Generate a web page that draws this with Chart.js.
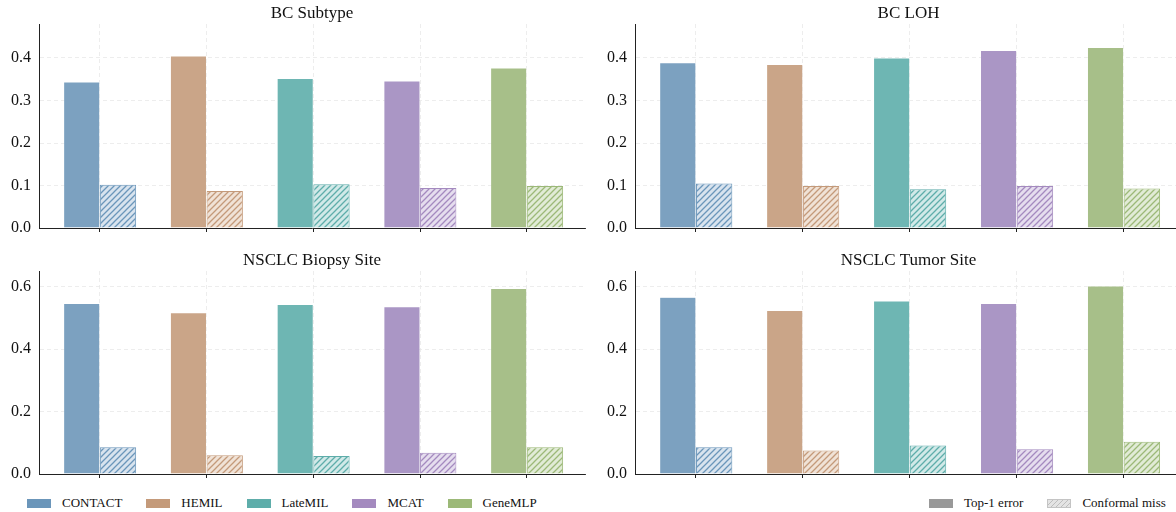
<!DOCTYPE html>
<html>
<head>
<meta charset="utf-8">
<script src="https://cdn.jsdelivr.net/npm/chart.js@4.4.1/dist/chart.umd.min.js"></script>
<style>
  html, body { margin: 0; padding: 0; background: #fff; }
  #wrap { position: relative; width: 1176px; height: 512px; overflow: hidden; font-family: "Liberation Serif", "Times New Roman", serif; }
  .panel { position: absolute; }
  .legend { position: absolute; top: 495px; display: flex; align-items: center; font-size: 13px; color: #111; white-space: nowrap; line-height: 16px; }
  .legend .item { display: flex; align-items: center; margin-right: 24px; }
  .legend .item:last-child { margin-right: 0; }
  .legend .sw { width: 24px; height: 9px; margin-right: 11px; box-sizing: border-box; }
</style>
</head>
<body>
<div id="wrap">
  <canvas id="c1" class="panel"></canvas>
  <canvas id="c2" class="panel"></canvas>
  <canvas id="c3" class="panel"></canvas>
  <canvas id="c4" class="panel"></canvas>
  <div class="legend" id="legModels" style="left:27px"></div>
  <div class="legend" id="legKinds" style="left:929px"></div>
</div>
<script>
// data
const models = ['CONTACT', 'HEMIL', 'LateMIL', 'MCAT', 'GeneMLP'];
const bcSubtypeTop1 = [0.344, 0.405, 0.352, 0.346, 0.377];
const bcSubtypeMiss = [0.102, 0.087, 0.103, 0.094, 0.099];
const bcLohTop1 = [0.389, 0.385, 0.400, 0.418, 0.425];
const bcLohMiss = [0.105, 0.099, 0.091, 0.099, 0.093];
const biopsyTop1 = [0.546, 0.517, 0.543, 0.536, 0.594];
const biopsyMiss = [0.086, 0.060, 0.058, 0.068, 0.086];
const tumorTop1 = [0.566, 0.524, 0.554, 0.546, 0.602];
const tumorMiss = [0.086, 0.075, 0.091, 0.079, 0.103];
const bcTicks = [0, 0.1, 0.2, 0.3, 0.4];
const nsclcTicks = [0, 0.2, 0.4, 0.6];

// colours
const solidColors = ['#7ca1c0', '#caa588', '#6eb6b3', '#aa96c5', '#a7bf89'];
const edgeColors = ['#6b96ba', '#c49a7a', '#5eadaa', '#a48abf', '#9cb978'];
const tintColors = ['#d8e3ee', '#f0e2d6', '#d1e9e8', '#e5ddee', '#e1ebd6'];
const FONT = '"Liberation Serif", "Times New Roman", serif';

function hatch(bg, line) {
  const c = document.createElement('canvas');
  c.width = 6; c.height = 6;
  const g = c.getContext('2d');
  g.fillStyle = bg;
  g.fillRect(0, 0, 6, 6);
  g.strokeStyle = line;
  g.lineWidth = 1.3;
  g.beginPath();
  g.moveTo(0, 6); g.lineTo(6, 0);
  g.moveTo(-1, 1); g.lineTo(1, -1);
  g.moveTo(5, 7); g.lineTo(7, 5);
  g.stroke();
  return g.createPattern(c, 'repeat');
}

const panelTitle = {
  id: 'panelTitle',
  afterDraw(chart, args, opts) {
    const a = chart.chartArea, ctx = chart.ctx;
    ctx.save();
    ctx.font = '17px ' + FONT;
    ctx.fillStyle = '#111';
    ctx.textAlign = 'center';
    ctx.textBaseline = 'middle';
    ctx.fillText(opts.text, (a.left + a.right) / 2, opts.y);
    ctx.restore();
  }
};

const panels = [
  { id: 'c1', title: 'BC Subtype', top1: bcSubtypeTop1, miss: bcSubtypeMiss, yMax: 0.48, ticks: bcTicks, x: 0, y: 0, w: 588, axisW: 39, padR: 3, padT: 24, titleY: 14 },
  { id: 'c2', title: 'BC LOH', top1: bcLohTop1, miss: bcLohMiss, yMax: 0.48, ticks: bcTicks, x: 588, y: 0, w: 594, axisW: 47, padR: 0, padT: 24, titleY: 14 },
  { id: 'c3', title: 'NSCLC Biopsy Site', top1: biopsyTop1, miss: biopsyMiss, yMax: 0.65, ticks: nsclcTicks, x: 0, y: 246, w: 588, axisW: 39, padR: 3, padT: 25, titleY: 15 },
  { id: 'c4', title: 'NSCLC Tumor Site', top1: tumorTop1, miss: tumorMiss, yMax: 0.65, ticks: nsclcTicks, x: 588, y: 246, w: 594, axisW: 47, padR: 0, padT: 25, titleY: 15 }
];

panels.forEach(p => {
  const cv = document.getElementById(p.id);
  cv.width = p.w; cv.height = 246;
  cv.style.left = p.x + 'px'; cv.style.top = p.y + 'px';
  cv.style.width = p.w + 'px'; cv.style.height = '246px';

  new Chart(cv, {
    type: 'bar',
    data: {
      datasets: [
        {
          label: 'Top-1 error',
          data: p.top1.map((v, i) => ({ x: i, y: v })),
          backgroundColor: solidColors,
          borderColor: 'rgba(255,255,255,0.7)',
          borderWidth: 0.6
        },
        {
          label: 'Conformal miss',
          data: p.miss.map((v, i) => ({ x: i, y: v })),
          backgroundColor: edgeColors.map((c, i) => hatch(tintColors[i], c)),
          borderColor: edgeColors,
          borderWidth: 1
        }
      ]
    },
    options: {
      responsive: false,
      animation: false,
      categoryPercentage: 0.68,
      barPercentage: 1,
      layout: { padding: { top: p.padT, right: p.padR, left: 0, bottom: 0 } },
      plugins: {
        legend: { display: false },
        tooltip: { enabled: false },
        panelTitle: { text: p.title, y: p.titleY }
      },
      scales: {
        x: {
          type: 'linear',
          min: -0.57,
          max: 4.545,
          bounds: 'data',
          offset: false,
          afterBuildTicks: s => { s.ticks = models.map((m, i) => ({ value: i })); },
          afterFit: s => { s.height = 18; },
          ticks: { display: false },
          grid: { offset: false, color: '#e8e8e8', lineWidth: 0.8, tickLength: 4, tickColor: '#222', tickWidth: 1, tickBorderDash: [] },
          border: { color: '#222', width: 1, dash: [4, 3] }
        },
        y: {
          min: 0,
          max: p.yMax,
          bounds: 'data',
          afterBuildTicks: s => { s.ticks = p.ticks.map(v => ({ value: v })); },
          afterFit: s => { s.width = p.axisW; },
          ticks: { padding: 8, color: '#111', font: { family: FONT, size: 16 }, callback: v => v.toFixed(1) },
          grid: { color: '#e8e8e8', lineWidth: 0.8, drawTicks: false },
          border: { color: '#222', width: 1, dash: [4, 3] }
        }
      }
    },
    plugins: [panelTitle]
  });
});

// legends
const legModels = document.getElementById('legModels');
models.forEach((m, i) => {
  const it = document.createElement('div');
  it.className = 'item';
  it.innerHTML = '<span class="sw" style="background:' + edgeColors[i] + '"></span><span>' + m + '</span>';
  legModels.appendChild(it);
});
const legKinds = document.getElementById('legKinds');
legKinds.innerHTML =
  '<div class="item"><span class="sw" style="background:#999"></span><span>Top-1 error</span></div>' +
  '<div class="item"><span class="sw" style="border:1px solid #c4c4c4;background:repeating-linear-gradient(-45deg,#e4e4e4 0 2.5px,#bdbdbd 2.5px 3.5px)"></span><span>Conformal miss</span></div>';
</script>
</body>
</html>
